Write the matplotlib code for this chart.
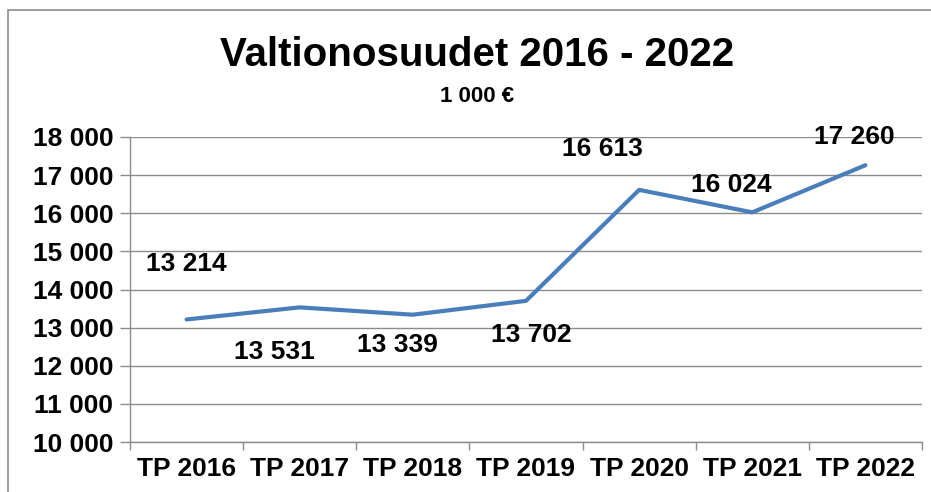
import matplotlib
matplotlib.use("Agg")
import matplotlib.pyplot as plt
from matplotlib.patches import Rectangle

categories = ["TP 2016", "TP 2017", "TP 2018", "TP 2019", "TP 2020", "TP 2021", "TP 2022"]
values = [13214, 13531, 13339, 13702, 16613, 16024, 17260]
value_labels = ["13 214", "13 531", "13 339", "13 702", "16 613", "16 024", "17 260"]
yticks = [10000, 11000, 12000, 13000, 14000, 15000, 16000, 17000, 18000]
ytick_labels = ["10 000", "11 000", "12 000", "13 000", "14 000", "15 000", "16 000", "17 000", "18 000"]

# label offsets in pixels (dx, dy upward)
label_offsets = [(-0.5, 55), (-25.5, -45), (-15, -30), (5, -34), (-36.5, 41), (-20.5, 27), (-11, 28)]

W, H = 931, 492
fig = plt.figure(figsize=(W / 100, H / 100), dpi=100)
fig.patch.set_facecolor("white")

# chart frame
fig.patches.append(Rectangle((8 / W, -0.05), 1.2, 1 - 10 / H + 0.05, transform=fig.transFigure,
                             fill=False, edgecolor="#8c8c8c", linewidth=1.2))

ax = fig.add_axes([130 / W, 1 - 442 / H, (922 - 130) / W, (442 - 137) / H])
x = list(range(len(categories)))
ax.plot(x, values, color="#4A7EBB", linewidth=3.0, solid_capstyle="round", solid_joinstyle="round", zorder=3)

ax.set_xlim(-0.5, len(categories) - 0.5)
ax.set_ylim(10000, 18000)
ax.set_yticks(yticks)
ax.set_yticklabels(ytick_labels)
ax.set_xticks(x)
ax.set_xticklabels(categories)
ax.set_xticks([i - 0.5 for i in range(len(categories) + 1)], minor=True)
ax.tick_params(axis="x", which="major", length=0, pad=11)
ax.tick_params(axis="x", which="minor", length=6, color="#8c8c8c", width=1)
ax.tick_params(axis="y", length=7, color="#8c8c8c", width=1, pad=5)

for lab in ax.get_xticklabels() + ax.get_yticklabels():
    lab.set_fontfamily(["Liberation Sans", "DejaVu Sans"])
    lab.set_fontweight("bold")
    lab.set_fontsize(19)
    lab.set_color("black")

ax.grid(axis="y", color="#8c8c8c", linewidth=1)
ax.set_axisbelow(True)
for s in ["top", "right"]:
    ax.spines[s].set_visible(False)
for s in ["left", "bottom"]:
    ax.spines[s].set_color("#8c8c8c")
    ax.spines[s].set_linewidth(1)

for xi, v, lab, (dx, dy) in zip(x, values, value_labels, label_offsets):
    ax.annotate(lab, (xi, v), xytext=(dx, dy), textcoords="offset pixels",
                ha="center", va="center", fontsize=19, fontweight="bold",
                family=["Liberation Sans", "DejaVu Sans"], color="black", zorder=4)

fig.text(477 / W, 1 - 55 / H, "Valtionosuudet 2016 - 2022", ha="center", va="center",
         fontsize=29, fontweight="bold", family=["Liberation Sans", "DejaVu Sans"])
fig.text(477 / W, 1 - 97 / H, "1 000 €", ha="center", va="center",
         fontsize=16, fontweight="bold", family=["Liberation Sans", "DejaVu Sans"])

fig.savefig("out.png", dpi=100)
